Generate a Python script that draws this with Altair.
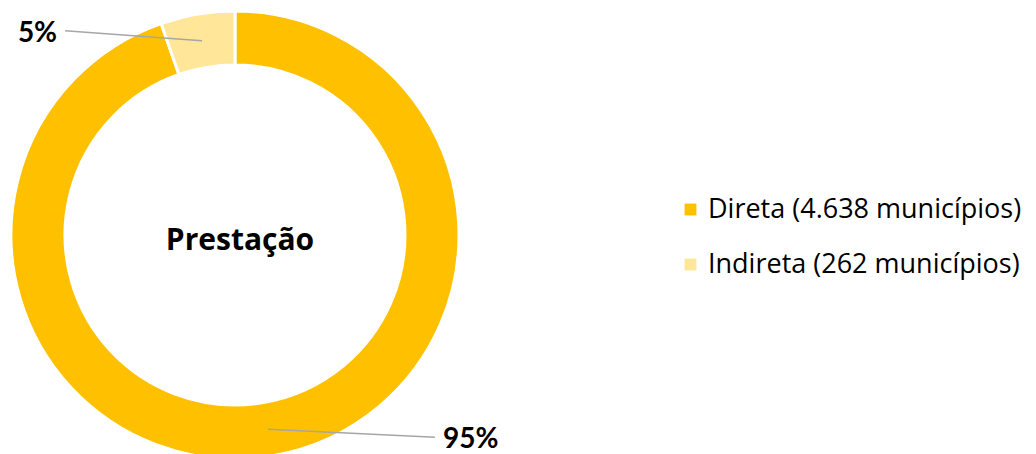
import math
import altair as alt
import pandas as pd

# ---- data ----
categories = ["Direta (4.638 municípios)", "Indireta (262 municípios)"]
counts = [4638, 262]
pct_labels = ["95%", "5%"]
colors = ["#FFC000", "#FFE699"]
center_title = "Prestação"

# ---- layout constants ----
W, H = 1020, 460
CX, CY = 227, 227
R_OUT, R_IN = 224, 170
R_MID = (R_OUT + R_IN) / 2

total = sum(counts)
rows = []
cum = 0
for i, (cat, c, lab) in enumerate(zip(categories, counts, pct_labels)):
    mid = (cum + c / 2) / total
    cum += c
    ang = 2 * math.pi * mid
    sx = CX + R_MID * math.sin(ang)
    sy = CY - R_MID * math.cos(ang)
    left = sx < CX
    # leader lines run roughly horizontally outwards to the label
    ex = sx - 137 if left else sx + 167
    ey = sy - 10 if left else sy + 8
    lx = ex - 8 if left else ex + 8
    ly = ey + 11
    rows.append(dict(cat=cat, count=c, order=i, label=lab,
                     sx=sx, sy=sy, ex=ex, ey=ey, lx=lx, ly=ly,
                     align="right" if left else "left"))
df = pd.DataFrame(rows)

arc = alt.Chart(df).mark_arc(radius=R_OUT, radius2=R_IN, stroke="white", strokeWidth=3).encode(
    theta=alt.Theta("count:Q", stack=True),
    order=alt.Order("order:Q"),
    color=alt.Color("cat:N", scale=alt.Scale(domain=categories, range=colors),
                    legend=alt.Legend(title=None, orient="none", legendX=669, legendY=188,
                                      symbolType="square", symbolSize=140, symbolStrokeWidth=0,
                                      labelFont="Open Sans", labelFontSize=27, labelColor="#000000",
                                      labelOffset=4, rowPadding=27, labelLimit=500)),
    x=alt.value(CX), y=alt.value(CY),
)

leaders = alt.Chart(df).mark_rule(color="#A6A6A6", strokeWidth=1.5).encode(
    x=alt.X("sx:Q", scale=None), y=alt.Y("sy:Q", scale=None),
    x2="ex:Q", y2="ey:Q",
)

left_labels = alt.Chart(df).transform_filter("datum.align == 'right'").mark_text(
    font="Lato", fontSize=28, fontWeight="bold", color="#000000", align="right", baseline="alphabetic"
).encode(x=alt.X("lx:Q", scale=None), y=alt.Y("ly:Q", scale=None), text="label:N")

right_labels = alt.Chart(df).transform_filter("datum.align == 'left'").mark_text(
    font="Lato", fontSize=28, fontWeight="bold", color="#000000", align="left", baseline="alphabetic"
).encode(x=alt.X("lx:Q", scale=None), y=alt.Y("ly:Q", scale=None), text="label:N")

title_df = pd.DataFrame({"t": [center_title]})
center = alt.Chart(title_df).mark_text(
    font="Open Sans", fontSize=30, fontWeight="bold", color="#000000", align="center", baseline="alphabetic"
).encode(x=alt.value(CX + 5), y=alt.value(CY + 15), text="t:N")

chart = alt.layer(arc, leaders, left_labels, right_labels, center).properties(
    width=W, height=H, padding=0, autosize=alt.AutoSizeParams(type="none")
).configure_view(stroke=None)

chart.save("out.html", embed_options={"renderer": "svg", "actions": False})
